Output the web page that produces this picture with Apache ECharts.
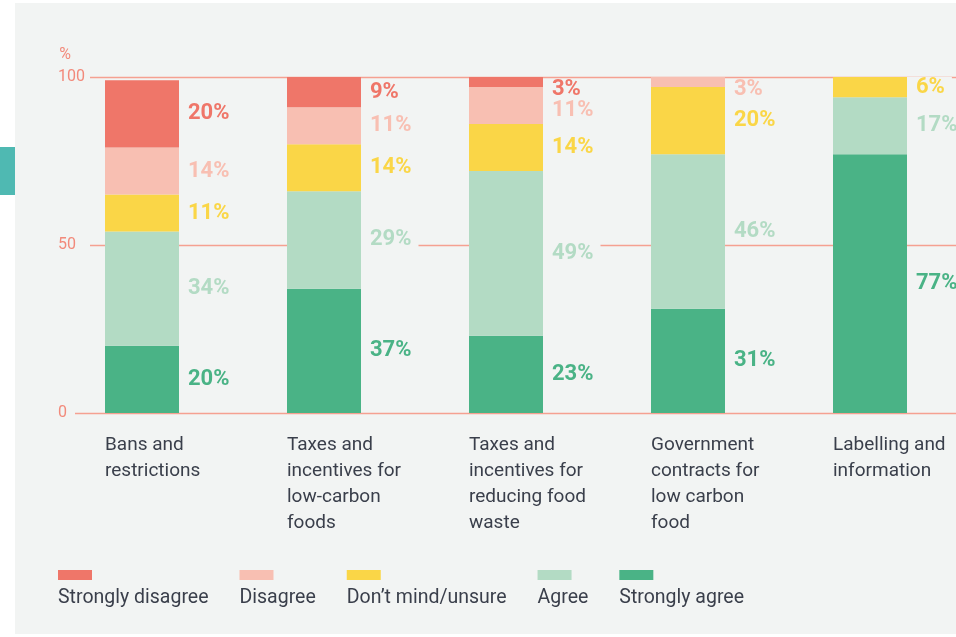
<!DOCTYPE html>
<html>
<head>
<meta charset="utf-8">
<script src="https://cdn.jsdelivr.net/npm/echarts@6/dist/echarts.min.js"></script>
<style>
  html, body { margin: 0; padding: 0; background: #ffffff; }
  #chart { width: 956px; height: 637px; }
</style>
</head>
<body>
<div id="chart"></div>
<script>
// Policy options and the share of responses (%) in each answer band
const categories = [
  'Bans and\nrestrictions',
  'Taxes and\nincentives for\nlow-carbon\nfoods',
  'Taxes and\nincentives for\nreducing food\nwaste',
  'Government\ncontracts for\nlow carbon\nfood',
  'Labelling and\ninformation'
];
const stronglyAgree    = [20, 37, 23, 31, 77];
const agree            = [34, 29, 49, 46, 17];
const dontMind         = [11, 14, 14, 20, 6];
const disagree         = [14, 11, 11, 3, 0];
const stronglyDisagree = [20, 9, 3, 0, 0];
const yTicks = [0, 50, 100];

const PANEL = '#f2f4f3';
const AXIS_RED = '#f28a7b';
const GRID_LINE = '#f5a091';
const TEXT = '#3a3f4b';

// Stacked bottom-to-top
const bands = [
  { name: 'Strongly agree',    data: stronglyAgree,    color: '#4ab386' },
  { name: 'Agree',             data: agree,            color: '#b3dbc4' },
  { name: 'Don’t mind/unsure', data: dontMind,         color: '#fad647' },
  { name: 'Disagree',          data: disagree,         color: '#f8bfb2' },
  { name: 'Strongly disagree', data: stronglyDisagree, color: '#ef7669' }
];
const legendOrder = ['Strongly disagree', 'Disagree', 'Don’t mind/unsure', 'Agree', 'Strongly agree'];

const chart = echarts.init(document.getElementById('chart'), null, { renderer: 'canvas' });

const legendRich = { t: { fontSize: 19.5, color: TEXT, lineHeight: 36, fontFamily: 'Roboto' } };
legendOrder.forEach((n, i) => {
  const b = bands.find(s => s.name === n);
  legendRich['b' + i] = { width: 34, height: 10, lineHeight: 10, fontSize: 1, backgroundColor: b.color };
});

// Labels of thin slices at the top of a bar (and a small slice right under one)
// are nudged down so they don't crowd each other
function labelShift(si, ci) {
  const v = bands[si].data[ci];
  const above = bands.slice(si + 1).reduce((s, o) => s + o.data[ci], 0);
  if (v > 0 && v < 5 && above === 0) return 7;
  if (v > 0 && v < 15 && above > 0 && above < 5) return 5;
  return 0;
}

const option = {
  backgroundColor: '#ffffff',
  animation: false,
  textStyle: { fontFamily: 'Roboto' },
  graphic: [
    { type: 'rect', shape: { x: 15, y: 3, width: 941, height: 631 }, style: { fill: PANEL }, z: -10, silent: true },
    { type: 'rect', shape: { x: 0, y: 147, width: 15, height: 48 }, style: { fill: '#4fb9b2' }, z: -10, silent: true }
  ],
  grid: [
    // bars
    { left: 51, width: 910, top: 77, bottom: 224, containLabel: false, outerBoundsMode: 'none' },
    // value frame: split lines and tick labels
    { left: 75, right: 0, top: 77, bottom: 224, containLabel: false, outerBoundsMode: 'none' }
  ],
  xAxis: [
    {
      type: 'category', gridIndex: 0, data: categories,
      axisLine: { show: false }, axisTick: { show: false },
      axisLabel: {
        interval: 0, margin: 19, align: 'center',
        formatter: v => v.split('\n').map(l => '{t|' + l + '}').join('\n'),
        rich: { t: { width: 74, align: 'left', fontSize: 19, lineHeight: 26, color: TEXT, fontFamily: 'Roboto' } }
      }
    },
    { type: 'value', gridIndex: 1, show: false, min: 0, max: 1 }
  ],
  yAxis: [
    { type: 'value', gridIndex: 0, min: 0, max: 100, show: false },
    {
      type: 'value', gridIndex: 1, min: yTicks[0], max: yTicks[yTicks.length - 1], interval: 50,
      name: '%', nameLocation: 'end', nameGap: 22,
      nameTextStyle: { align: 'right', verticalAlign: 'middle', padding: [0, 4, 0, 0], color: AXIS_RED, fontSize: 16 },
      axisLine: { show: false }, axisTick: { show: false },
      splitLine: { show: true, lineStyle: { color: GRID_LINE, width: 1.3 } },
      axisLabel: {
        margin: 17, align: 'left', color: AXIS_RED, fontSize: 16,
        formatter: v => v === 0 ? '{z|0}' : '{g|' + v + '}',
        rich: {
          g: { width: 32, align: 'left', backgroundColor: PANEL, color: AXIS_RED, fontSize: 16, padding: [2, 0, 2, 0] },
          z: { color: AXIS_RED, fontSize: 16 }
        }
      }
    }
  ],
  legend: {
    left: 53, top: 570, padding: 0, itemGap: 26,
    itemWidth: 0, itemHeight: 0, icon: 'rect', selectedMode: false,
    data: legendOrder,
    formatter: name => '{b' + legendOrder.indexOf(name) + '| }\n{t|' + name + '}',
    textStyle: { rich: legendRich }
  },
  series: bands.map((b, si) => ({
    name: b.name, type: 'bar', stack: 'all', xAxisIndex: 0, yAxisIndex: 0,
    barWidth: 74,
    data: b.data.map((v, ci) => {
      const dy = labelShift(si, ci);
      return dy ? { value: v, label: { offset: [0, dy] } } : v;
    }),
    itemStyle: { color: b.color },
    emphasis: { disabled: true },
    label: {
      show: true, position: 'right', distance: 0,
      formatter: p => p.value ? p.value + '%' : '',
      color: b.color, fontSize: 22, fontWeight: 'bold', fontFamily: 'Roboto',
      letterSpacing: 1.3, lineHeight: 20,
      backgroundColor: PANEL, padding: [0, 7, 0, 9]
    }
  }))
};
chart.setOption(option);
</script>
</body>
</html>
